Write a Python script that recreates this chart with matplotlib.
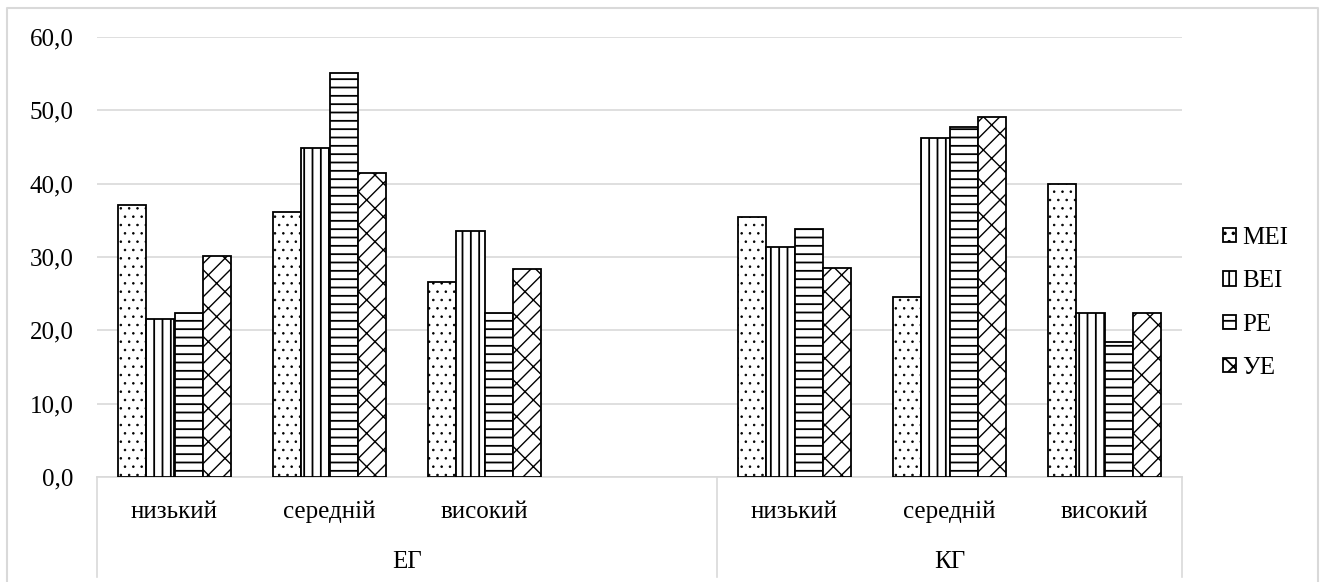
import matplotlib
matplotlib.use("Agg")
import matplotlib.pyplot as plt
from matplotlib.lines import Line2D
from matplotlib.ticker import FuncFormatter, MultipleLocator
import matplotlib.transforms as mtransforms
import numpy as np

plt.rcParams["font.family"] = ["Liberation Serif", "DejaVu Serif"]
plt.rcParams["hatch.linewidth"] = 1.3
plt.rcParams["hatch.color"] = "black"

# Data
groups = ["ЕГ", "КГ"]
levels = ["низький", "середній", "високий"]
series = ["MEI", "BEI", "PE", "УE"]
eg_mei = [37.1, 36.1, 26.6]
eg_bei = [21.5, 44.8, 33.6]
eg_pe = [22.3, 55.1, 22.3]
eg_ue = [30.2, 41.4, 28.4]
kg_mei = [35.4, 24.5, 40.0]
kg_bei = [31.4, 46.2, 22.3]
kg_pe = [33.8, 47.7, 18.4]
kg_ue = [28.5, 49.1, 22.3]

hatches = ["..", "||", "--", "/x"]
hatch_lw = [0.6, 1.3, 1.3, 1.0]

W, H = 1325, 582
FS = 18
fig = plt.figure(figsize=(W / 100, H / 100), dpi=100)
ax = fig.add_axes([97 / W, 1 - 477 / H, (1182 - 97) / W, (477 - 37) / H])

# category slots: ЕГ occupies four slots (last one empty), КГ three
eg_pos = np.array([0.5, 1.5, 2.5])
kg_pos = np.array([4.5, 5.5, 6.5])
n_slots = 7
bar_w = 0.183

eg_vals = [eg_mei, eg_bei, eg_pe, eg_ue]
kg_vals = [kg_mei, kg_bei, kg_pe, kg_ue]
for i, name in enumerate(series):
    off = (i - 1.5) * bar_w
    for pos, vals, lab in ((eg_pos, eg_vals[i], name), (kg_pos, kg_vals[i], None)):
        bars = ax.bar(pos + off, vals, width=bar_w, facecolor="white",
                      edgecolor="black", linewidth=1.3, hatch=hatches[i],
                      label=lab, zorder=3)
        for b in bars:
            if hasattr(b, "set_hatch_linewidth"):
                b.set_hatch_linewidth(hatch_lw[i])

ax.set_xlim(0, n_slots)
ax.set_ylim(0, 60)
ax.yaxis.set_major_locator(MultipleLocator(10))
ax.yaxis.set_major_formatter(FuncFormatter(lambda v, p: f"{v:.1f}".replace(".", ",")))
ax.grid(axis="y", color="#d9d9d9", linewidth=1.2, zorder=0)
ax.set_axisbelow(True)
for s in ["top", "right", "left"]:
    ax.spines[s].set_visible(False)
ax.spines["bottom"].set_color("#d9d9d9")
ax.spines["bottom"].set_linewidth(1.2)
ax.tick_params(axis="y", length=0, pad=17, labelsize=FS)
ax.tick_params(axis="x", length=0)
ax.set_xticks([])

# two-level category axis
trans = mtransforms.blended_transform_factory(ax.transData, fig.transFigure)
for pos_arr in (eg_pos, kg_pos):
    for x, lab in zip(pos_arr, levels):
        ax.text(x, 1 - 512 / H, lab, transform=trans, ha="center", va="center",
                fontsize=FS, clip_on=False)
ax.text(2.0, 1 - 562 / H, groups[0], transform=trans, ha="center", va="center",
        fontsize=FS, clip_on=False)
ax.text(5.5, 1 - 562 / H, groups[1], transform=trans, ha="center", va="center",
        fontsize=FS, clip_on=False)
for xs in (0, 4, 7):
    ax.add_line(Line2D([xs, xs], [1 - 477 / H, 1 - 577 / H], transform=trans,
                       color="#d9d9d9", linewidth=1.2, clip_on=False))

# chart frame
fx = [7 / W, 7 / W, 1318 / W, 1318 / W]
fy = [0, 1 - 8 / H, 1 - 8 / H, 0]
fig.add_artist(Line2D(fx, fy, transform=fig.transFigure, color="#d9d9d9", linewidth=1.5))

leg = fig.legend(loc="center left", bbox_to_anchor=(1213 / W, 1 - 303 / H),
                 frameon=False, fontsize=FS, handlelength=0.5, handleheight=0.5,
                 handletextpad=0.25, labelspacing=0.85, borderaxespad=0)

fig.savefig("out.png", dpi=100, facecolor="white")
